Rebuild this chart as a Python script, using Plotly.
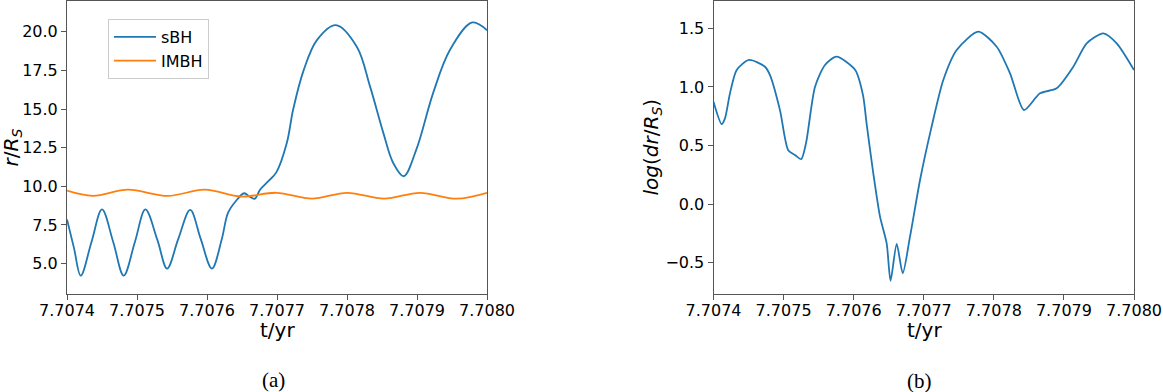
import plotly.graph_objects as go

# ---- data (t in yr) ----
t0 = 7.7074
# panel (a): sBH radius, offsets in units of 1e-4 yr from t0
sbh_off = [0.000, 0.10, 0.196, 0.35, 0.50, 0.66, 0.81, 0.97, 1.12, 1.29, 1.43, 1.59, 1.76, 1.91,
           2.07, 2.21, 2.30, 2.41, 2.53, 2.61, 2.68, 2.76, 2.88, 2.99, 3.14, 3.23, 3.38, 3.57,
           3.84, 4.14, 4.33, 4.52, 4.66, 4.81, 4.99, 5.23, 5.47, 5.79, 6.00]
sbh_r = [7.85, 6.0, 4.22, 6.4, 8.50, 6.4, 4.22, 6.4, 8.50, 6.55, 4.67, 6.6, 8.47, 6.6,
         4.67, 6.56, 8.28, 9.03, 9.55, 9.32, 9.19, 9.79, 10.35, 10.9, 12.8, 14.95, 17.5, 19.46,
         20.43, 19.03, 16.45, 13.44, 11.51, 10.65, 12.37, 16.03, 18.82, 20.6, 20.1]

imbh_off = [0.00, 0.37, 0.87, 1.44, 1.97, 2.49, 2.99, 3.50, 4.00, 4.53, 5.04, 5.57, 6.00]
imbh_r = [9.72, 9.38, 9.78, 9.38, 9.78, 9.33, 9.58, 9.20, 9.58, 9.20, 9.58, 9.20, 9.58]

# panel (b): log(dr/R_S)
dr_off = [0.000, 0.116, 0.164, 0.235, 0.331, 0.507, 0.735, 0.806, 0.949, 1.066, 1.163, 1.251,
          1.32, 1.448, 1.591, 1.755, 2.022, 2.133, 2.186, 2.28, 2.376, 2.471, 2.526, 2.614,
          2.70, 2.804, 2.947, 3.104, 3.279, 3.47, 3.779, 4.041, 4.231, 4.431, 4.659, 4.897,
          5.134, 5.325, 5.562, 5.753, 6.0]
dr_log = [0.874, 0.683, 0.732, 0.945, 1.144, 1.23, 1.172, 1.10, 0.80, 0.46, 0.419, 0.383,
          0.52, 1.0, 1.187, 1.258, 1.144, 0.93, 0.68, 0.263, -0.107, -0.335, -0.654, -0.34,
          -0.59, -0.278, 0.206, 0.64, 1.059, 1.315, 1.471, 1.343, 1.116, 0.803, 0.945, 0.988,
          1.172, 1.372, 1.457, 1.372, 1.144]

x_ticks = [7.7074, 7.7075, 7.7076, 7.7077, 7.7078, 7.7079, 7.7080]
x_ticktext = ["7.7074", "7.7075", "7.7076", "7.7077", "7.7078", "7.7079", "7.7080"]
ya_ticks = [5.0, 7.5, 10.0, 12.5, 15.0, 17.5, 20.0]
yb_ticks = [-0.5, 0.0, 0.5, 1.0, 1.5]

to_t = lambda offs: [t0 + o * 1e-4 for o in offs]

BLUE = "#1f77b4"
ORANGE = "#ff7f0e"
FONT = "DejaVu Sans"
AX = "#555555"

W, H = 1163, 392
PX = lambda p: p / W
PY = lambda p: 1 - p / H

fig = go.Figure()
fig.add_trace(go.Scatter(x=to_t(sbh_off), y=sbh_r, mode="lines", name="sBH",
                         line=dict(color=BLUE, width=1.8, shape="spline", smoothing=1.0),
                         xaxis="x", yaxis="y"))
fig.add_trace(go.Scatter(x=to_t(imbh_off), y=imbh_r, mode="lines", name="IMBH",
                         line=dict(color=ORANGE, width=1.8, shape="spline", smoothing=1.0),
                         xaxis="x", yaxis="y"))
fig.add_trace(go.Scatter(x=to_t(dr_off), y=dr_log, mode="lines", name="dr",
                         line=dict(color=BLUE, width=1.8, shape="spline", smoothing=0.7),
                         xaxis="x2", yaxis="y2", showlegend=False))

ydom = [PY(294), PY(1)]

axis_common = dict(showline=True, mirror=True, linecolor=AX, linewidth=1, ticks="outside",
                   ticklen=5, tickcolor=AX, showgrid=False, zeroline=False, automargin=False,
                   tickfont=dict(family=FONT, size=16, color="black"))
xaxis_extra = dict(ticklabelstandoff=-3)

fig.update_layout(
    width=W, height=H, autosize=False,
    margin=dict(l=0, r=0, t=0, b=0, pad=0),
    paper_bgcolor="white", plot_bgcolor="white",
    font=dict(family=FONT, size=16, color="black"),
    xaxis=dict(domain=[PX(67), PX(487)], range=[7.7074, 7.7080], tickvals=x_ticks,
               ticktext=x_ticktext, anchor="y", **axis_common, **xaxis_extra),
    yaxis=dict(domain=ydom, range=[3.03, 21.99], tickvals=ya_ticks, tickformat=".1f",
               anchor="x", **axis_common),
    xaxis2=dict(domain=[PX(713.5), PX(1134)], range=[7.7074, 7.7080], tickvals=x_ticks,
                ticktext=x_ticktext, anchor="y2", **axis_common, **xaxis_extra),
    yaxis2=dict(domain=ydom, range=[-0.767, 1.733], tickvals=yb_ticks, tickformat=".1f",
                anchor="x2", **axis_common),
    legend=dict(x=PX(108), y=PY(19), xanchor="left", yanchor="top", itemwidth=42,
                bordercolor="#cccccc", borderwidth=1, bgcolor="white",
                font=dict(family=FONT, size=16, color="black"), tracegroupgap=0),
    showlegend=True,
)

ann = []
def add(text, xpx, ypx, size, angle=0, family=FONT):
    ann.append(dict(text=text, x=PX(xpx), y=PY(ypx), xref="paper", yref="paper",
                    xanchor="center", yanchor="middle", showarrow=False, textangle=angle,
                    font=dict(family=family, size=size, color="black")))

add("t/yr", 277, 330, 20)
add("t/yr", 924, 330, 20)
add("<i>r</i>/<i>R</i><sub><i>S</i></sub>", 12, 147.5, 20, -90)
add("<i>log</i>(<i>dr</i>/<i>R</i><sub><i>S</i></sub>)", 652, 147.5, 20, -90)
add("(a)", 273, 380, 21, family="Liberation Serif")
add("(b)", 920, 381, 21, family="Liberation Serif")
fig.update_layout(annotations=ann)

fig.write_html("out.html", config={"displayModeBar": False},
               post_script="document.body.style.margin='0px';document.body.style.overflow='hidden';")
